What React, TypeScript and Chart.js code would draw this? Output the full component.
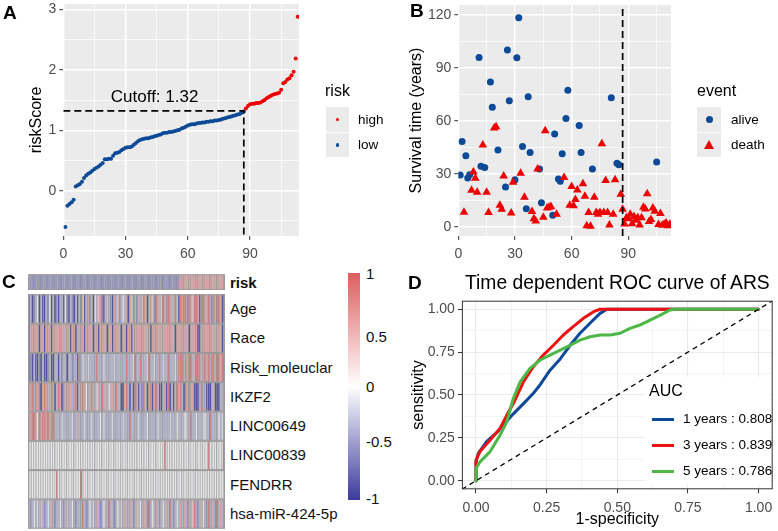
import React, { useEffect, useRef } from 'react';
import { Chart, registerables } from 'chart.js';

Chart.register(...registerables);

const FONT = "'Liberation Sans', Arial, Helvetica, sans-serif";

// ---------------- Panel A: sorted risk scores ----------------
const riskScore = [
  -0.60, -0.25, -0.22, -0.19, -0.15, 0.07, 0.09, 0.11, 0.15, 0.21,
  0.25, 0.28, 0.30, 0.33, 0.36, 0.38, 0.40, 0.43, 0.46, 0.52,
  0.52, 0.53, 0.53, 0.58, 0.62, 0.63, 0.64, 0.67, 0.69, 0.71,
  0.72, 0.72, 0.73, 0.76, 0.79, 0.82, 0.84, 0.85, 0.86, 0.87,
  0.87, 0.88, 0.89, 0.90, 0.91, 0.92, 0.93, 0.95, 0.96, 0.96,
  0.97, 0.97, 0.98, 0.99, 1.00, 1.01, 1.03, 1.04, 1.06, 1.08,
  1.09, 1.10, 1.10, 1.11, 1.12, 1.12, 1.13, 1.13, 1.14, 1.14,
  1.15, 1.15, 1.16, 1.16, 1.17, 1.18, 1.19, 1.20, 1.21, 1.22,
  1.23, 1.24, 1.25, 1.26, 1.27, 1.29, 1.31,
  1.36, 1.40, 1.43, 1.44, 1.44, 1.45, 1.45, 1.46, 1.48, 1.50,
  1.53, 1.55, 1.57, 1.59, 1.60, 1.61, 1.62, 1.67, 1.78, 1.80,
  1.84, 1.86, 1.91, 1.97, 2.19, 2.88,
];
const cutoff = 1.32;
const cutoffRank = 87;
const cutoffLabelX = 44;
const cutoffLabelY = 1.55;
const aXMajor = [0, 30, 60, 90];
const aXMinor = [15, 45, 75, 105];
const aYMajor = [0, 1, 2, 3];
const aYMinor = [-0.5, 0.5, 1.5, 2.5];

// ---------------- Panel B: survival ----------------
const aliveRank = [1, 2, 4, 5, 6, 11, 12, 14, 17, 18, 21, 25, 26, 27, 30, 31, 32, 34, 36, 37, 38, 43, 44, 50, 51, 53, 54, 55, 57, 58, 64, 65, 71, 81, 84, 85, 105];
const aliveTime = [29.3, 48.3, 40.2, 27.7, 29.5, 95.8, 34.3, 33.6, 81.9, 67.7, 43.5, 22.5, 100, 71.4, 26.6, 95.6, 118.3, 45.4, 10.3, 73.6, 42.1, 32.7, 13.7, 6.6, 52.6, 27.1, 25.8, 41.3, 61.3, 77.3, 57.4, 42.1, 32.7, 73.1, 36, 35.2, 36.7];
const deathRank = [3, 7, 8, 9, 10, 13, 15, 16, 19, 20, 22, 23, 24, 28, 29, 33, 35, 39, 40, 41, 42, 45, 46, 47, 48, 49, 52, 56, 59, 60, 61, 62, 63, 66, 67, 68, 69, 70, 72, 73, 74, 75, 76, 77, 78, 79, 80, 82, 83, 86, 87, 88, 89, 90, 91, 92, 93, 94, 95, 96, 97, 98, 99, 100, 101, 102, 103, 104, 106, 107, 108, 109, 110, 111, 112];
const deathTime = [8.3, 20.7, 31, 27.5, 19.6, 46.3, 19.6, 8.1, 55.9, 56.6, 12.2, 10, 28.8, 7.9, 25.3, 30.4, 16.8, 8.7, 4.6, 3.3, 32.8, 5.5, 54.4, 10.7, 11.1, 11.6, 7.2, 27.9, 12.2, 22.9, 12, 15.5, 20.8, 24.4, 17.3, 0.7, 8.1, 0.4, 16.8, 8.1, 7.2, 8.1, 47, 8.1, 26.2, 8.1, 1.1, 7.2, 26.6, 18.5, 10, 1.7, 5.2, 4.6, 7.2, 1.8, 5.9, 3.7, 5.2, 1.1, 5.2, 11.1, 10.1, 18.8, 3, 4.2, 10.7, 8.9, 1.3, 7.6, 0.9, 1.5, 2.2, 0.7, 1.5];
const bXMajor = [0, 30, 60, 90];
const bXMinor = [15, 45, 75, 105];
const bYMajor = [0, 30, 60, 90, 120];
const bYMinor = [15, 45, 75, 105];

// ---------------- Panel C: heatmap ----------------
const heatRowNames = ['Age', 'Race', 'Risk_moleuclar', 'IKZF2', 'LINC00649', 'LINC00839', 'FENDRR', 'hsa-miR-424-5p'];
// a=-1 b=-0.6 c=-0.35 d=-0.12 e=0 f=0.3 g=0.55 h=0.85 i=1
const hmAge = 'acabceacaacbeacabaccaebacbaca' + 'cbfacgbcaecfgbacfcbagcfbcecga' + 'gfhcbgcfhgacgfbhgcfhgbhgcghfa' + 'hghhbhgfhhgahhgghcbhghhgah';
const hmRace = 'agggggaggagggaggggggggggaggag' + 'gggaggggaggaggggaggaggggaggag' + 'gaggggggggggagggggggggggggagg' + 'gggggaggggaaggggggggggggag';
const hmRiskMol = 'abacaabacaabcaaccacbccaccbcca' + 'hcdccdcccchcccdcccccdcccccchc' + 'ccdhcchcccdhccdcchcdcchcccdch' + 'hhchghhcghhhcghghchhghhghh';
const hmIKZF2 = 'hghchghaghgcghgachgahcgggcgha' + 'cghgecghgcdgchgcgecgchgcaaghc' + 'acahgacbhcaghaghcaacgahacaghg' + 'hcahghcgaaaghgcaaacgaaaccg';
const hmL649 = 'hghhgehghhghghhgcccdcccccdccc' + 'gccdcccdccccecdccccdcccccdccc' + 'hccccdccccecccccdccccccdcccec' + 'ccdecchccecccdecchccccecdc';
const hmL839 = 'edeedeeedeeedeedeeedeedeeedee' + 'eedeeedeedeeedeeedeedeeedeede' + 'edeedeeedeedeeedeeeehdeedeeed' + 'eedeedeeedeedeeehedeedeedh';
const hmFENDRR = 'edeedeeedeeedeeehedeedeeedeee' + 'ehdeedeeedeedeeedeeedeedeeede' + 'eedeeedeedeeedeeedeedeeedeede' + 'edeedeeedeedeeedeeedeedeee';
const hmMiR = 'cbcecdcfcbcecgcbccecbcfccecbc' + 'cchcbcecdcgcbcecchccbcecdcgcc' + 'gcbcfcecgcbhcecgcbcecgchcbcec' + 'gcgcbgcfhcbcgecbhcgcbhcgcg';
const heatRows = [hmAge, hmRace, hmRiskMol, hmIKZF2, hmL649, hmL839, hmFENDRR, hmMiR];
const codeValue: Record<string, number> = { a: -1, b: -0.6, c: -0.35, d: -0.12, e: 0, f: 0.3, g: 0.55, h: 0.85, i: 1 };
const riskRowLow = -0.55;
const riskRowHigh = 0.55;
const colorbarLabels = ['1', '0.5', '0', '-0.5', '-1'];

// ---------------- Panel D: ROC ----------------
const fpr1 = [0, 0, 0.008, 0.038, 0.073, 0.097, 0.132, 0.168, 0.203, 0.227, 0.262, 0.298, 0.333, 0.368, 0.404, 0.439, 0.463, 1.0];
const tpr1 = [0, 0.11, 0.16, 0.23, 0.28, 0.325, 0.39, 0.45, 0.51, 0.56, 0.645, 0.71, 0.79, 0.86, 0.92, 0.976, 1.0, 1.0];
const fpr3 = [0, 0, 0.014, 0.05, 0.085, 0.109, 0.132, 0.168, 0.203, 0.238, 0.274, 0.309, 0.345, 0.38, 0.416, 0.439, 1.0];
const tpr3 = [0, 0.12, 0.17, 0.237, 0.305, 0.383, 0.45, 0.577, 0.665, 0.733, 0.79, 0.85, 0.9, 0.947, 0.986, 1.0, 1.0];
const fpr5 = [0, 0, 0.014, 0.05, 0.085, 0.109, 0.132, 0.156, 0.191, 0.227, 0.262, 0.298, 0.333, 0.368, 0.404, 0.439, 0.475, 0.51, 0.545, 0.58, 0.616, 0.652, 0.687, 0.705, 1.0];
const tpr5 = [0, 0.07, 0.11, 0.17, 0.266, 0.344, 0.48, 0.577, 0.655, 0.704, 0.733, 0.762, 0.79, 0.82, 0.84, 0.85, 0.85, 0.86, 0.889, 0.908, 0.937, 0.966, 0.996, 1.0, 1.0];
const rocLabels = ['1 years : 0.808', '3 years : 0.839', '5 years : 0.786'];
const dMajor = [0, 0.25, 0.5, 0.75, 1];
const dMinor = [0.125, 0.375, 0.625, 0.875];

// ---------------- colours ----------------
const BLUE = '#0c4a97';
const RED = '#ee0000';
const ROC_COLORS = ['#0c4a97', '#ee1111', '#4cb848'];

const zip = (xs: number[], ys: number[]) => xs.map((x, i) => ({ x, y: ys[i] }));

function ggAxis(o: any) {
  const all = [...o.majors, ...o.minors].sort((a: number, b: number) => a - b);
  const isMajor = (v: any) => o.majors.some((m: number) => Math.abs(m - v) < 1e-9);
  return {
    type: 'linear',
    min: o.min,
    max: o.max,
    afterBuildTicks: (s: any) => { s.ticks = all.map((v: number) => ({ value: v })); },
    afterFit: (s: any) => {
      if (o.axis === 'x') s.height = o.size; else s.width = o.size;
      s.paddingTop = 0; s.paddingBottom = 0; s.paddingLeft = 0; s.paddingRight = 0;
    },
    ticks: {
      autoSkip: false, maxRotation: 0, minRotation: 0, padding: o.axis === 'x' ? 6 : 3,
      color: '#4d4d4d', font: { family: FONT, size: 14 },
      callback: (v: any) => (isMajor(v) ? o.fmt(v) : ''),
    },
    grid: {
      color: o.gridColor,
      lineWidth: (c: any) => (isMajor(c.tick && c.tick.value) ? o.majorW : o.minorW),
      tickLength: 4,
      tickWidth: 1,
      tickColor: (c: any) => (isMajor(c.tick && c.tick.value) ? '#333333' : 'rgba(0,0,0,0)'),
    },
    border: { display: false },
    title: o.title
      ? { display: true, text: o.title, color: '#000', font: { family: FONT, size: 16, lineHeight: 1.2 }, padding: 0 }
      : { display: false },
  };
}

const bgPlugin = (color: string) => ({
  id: 'panelBg',
  beforeDraw(chart: any) {
    const { ctx, chartArea: a } = chart;
    ctx.save();
    ctx.fillStyle = color;
    ctx.fillRect(a.left, a.top, a.right - a.left, a.bottom - a.top);
    ctx.restore();
  },
});

const borderPlugin = {
  id: 'panelBorder',
  afterDraw(chart: any) {
    const { ctx, chartArea: a } = chart;
    ctx.save();
    ctx.strokeStyle = '#333333';
    ctx.lineWidth = 1;
    ctx.strokeRect(a.left + 0.5, a.top + 0.5, a.right - a.left - 1, a.bottom - a.top - 1);
    ctx.restore();
  },
};

const basePlugins = { legend: { display: false }, tooltip: { enabled: false }, title: { display: false } };

function configA() {
  const pts = riskScore.map((y, i) => ({ x: i + 1, y }));
  const yMin = -0.75;
  return {
    type: 'scatter',
    data: {
      datasets: [
        {
          type: 'line',
          data: [{ x: 0, y: cutoff }, { x: cutoffRank, y: cutoff }, { x: cutoffRank, y: yMin }],
          borderColor: '#000', borderWidth: 1.7, borderDash: [7, 4], pointRadius: 0, fill: false, tension: 0,
        },
        { data: pts.filter((p) => p.y > cutoff), backgroundColor: RED, borderColor: RED, pointRadius: 2, borderWidth: 0 },
        { data: pts.filter((p) => p.y <= cutoff), backgroundColor: BLUE, borderColor: BLUE, pointRadius: 2, borderWidth: 0 },
      ],
    },
    options: {
      responsive: false, animation: false, events: [],
      layout: { padding: { left: 27.1, right: 91, top: 0, bottom: 0 } },
      plugins: basePlugins,
      scales: {
        x: ggAxis({ axis: 'x', min: 0, max: 113.6, majors: aXMajor, minors: aXMinor, fmt: (v: number) => String(v), size: 29, gridColor: '#ffffff', majorW: 1.4, minorW: 0.7 }),
        y: ggAxis({ axis: 'y', min: yMin, max: 3.09, majors: aYMajor, minors: aYMinor, fmt: (v: number) => String(v), size: 36.2, gridColor: '#ffffff', majorW: 1.4, minorW: 0.7, title: 'riskScore' }),
      },
    },
    plugins: [
      bgPlugin('#EBEBEB'),
      {
        id: 'cutoffLabel',
        afterDatasetsDraw(chart: any) {
          const { ctx, scales } = chart;
          ctx.save();
          ctx.font = `17px ${FONT}`;
          ctx.fillStyle = '#000';
          ctx.textAlign = 'center';
          ctx.textBaseline = 'middle';
          ctx.fillText(`Cutoff: ${cutoff}`, scales.x.getPixelForValue(cutoffLabelX), scales.y.getPixelForValue(cutoffLabelY));
          ctx.restore();
        },
      },
    ],
  };
}

function configB() {
  const yMin = -5.15;
  const yMax = 125.5;
  return {
    type: 'scatter',
    data: {
      datasets: [
        {
          type: 'line',
          data: [{ x: cutoffRank, y: yMin }, { x: cutoffRank, y: yMax }],
          borderColor: '#000', borderWidth: 1.7, borderDash: [7, 4], pointRadius: 0, fill: false, tension: 0,
        },
        { data: zip(deathRank, deathTime), pointStyle: 'triangle', backgroundColor: RED, borderColor: RED, pointRadius: 5, borderWidth: 0 },
        { data: zip(aliveRank, aliveTime), pointStyle: 'circle', backgroundColor: BLUE, borderColor: BLUE, pointRadius: 3.5, borderWidth: 0 },
      ],
    },
    options: {
      responsive: false, animation: false, events: [],
      layout: { padding: { left: 17.1, right: 107, top: 0, bottom: 0 } },
      plugins: basePlugins,
      scales: {
        x: ggAxis({ axis: 'x', min: 0, max: 112.6, majors: bXMajor, minors: bXMinor, fmt: (v: number) => String(v), size: 29, gridColor: '#ffffff', majorW: 1.4, minorW: 0.7 }),
        y: ggAxis({ axis: 'y', min: yMin, max: yMax, majors: bYMajor, minors: bYMinor, fmt: (v: number) => String(v), size: 51.2, gridColor: '#ffffff', majorW: 1.4, minorW: 0.7, title: 'Survival time (years)' }),
      },
    },
    plugins: [bgPlugin('#EBEBEB')],
  };
}

function configD() {
  const lineDs = (xs: number[], ys: number[], color: string) => ({
    type: 'line', data: zip(xs, ys), borderColor: color, borderWidth: 3, pointRadius: 0, fill: false, tension: 0,
    borderCapStyle: 'round', borderJoinStyle: 'round',
  });
  return {
    type: 'scatter',
    data: {
      datasets: [
        { type: 'line', data: [{ x: -0.05, y: -0.05 }, { x: 1.05, y: 1.05 }], borderColor: '#000', borderWidth: 1.3, borderDash: [5, 4], pointRadius: 0, fill: false },
        lineDs(fpr5, tpr5, ROC_COLORS[2]),
        lineDs(fpr3, tpr3, ROC_COLORS[1]),
        lineDs(fpr1, tpr1, ROC_COLORS[0]),
      ],
    },
    options: {
      responsive: false, animation: false, events: [],
      layout: { padding: { left: 18.7, right: 5.3, top: 35.7, bottom: 1.4 } },
      plugins: basePlugins,
      scales: {
        x: ggAxis({ axis: 'x', min: -0.05, max: 1.05, majors: dMajor, minors: dMinor, fmt: (v: number) => v.toFixed(2), size: 40.3, gridColor: '#EBEBEB', majorW: 1.1, minorW: 0.55, title: '1-specificity' }),
        y: ggAxis({ axis: 'y', min: -0.05, max: 1.05, majors: dMajor, minors: dMinor, fmt: (v: number) => v.toFixed(2), size: 53.2, gridColor: '#EBEBEB', majorW: 1.1, minorW: 0.55, title: 'sensitivity' }),
      },
    },
    plugins: [borderPlugin],
  };
}

// heatmap colour scale
const C_LO = [59, 59, 157];
const C_MID = [255, 255, 255];
const C_HI = [221, 94, 94];
function cmap(v: number) {
  const t = Math.max(-1, Math.min(1, v));
  const end = t < 0 ? C_LO : C_HI;
  const k = Math.abs(t);
  return C_MID.map((m, i) => m + (end[i] - m) * k);
}
function cellColor(v: number) {
  const c = cmap(v);
  const g = 160;
  const k = 0.25;
  return `rgb(${c.map((x) => Math.round(x * (1 - k) + g * k)).join(',')})`;
}
const RISK_BAND = [0, 15.7];
const ROW_START = 20;
const ROW_H = 29.3;

function configC() {
  const n = riskScore.length;
  const labels = riskScore.map((_, i) => String(i + 1));
  const riskVals = riskScore.map((v) => (v > cutoff ? riskRowHigh : riskRowLow));
  const bands = [RISK_BAND, ...heatRows.map((_, r) => [ROW_START + r * ROW_H, ROW_START + (r + 1) * ROW_H])];
  const rowVals = [riskVals, ...heatRows.map((s) => s.split('').slice(0, n).map((ch) => codeValue[ch] ?? 0))];
  return {
    type: 'bar',
    data: {
      labels,
      datasets: rowVals.map((vals, r) => ({
        data: vals.map(() => [bands[r][0], bands[r][1]]),
        backgroundColor: vals.map(cellColor),
        borderColor: '#8e8e8e',
        borderWidth: { left: 0.6, right: 0, top: 0, bottom: 0 },
        borderSkipped: false,
        inflateAmount: 0.3,
        grouped: false,
        categoryPercentage: 1,
        barPercentage: 1,
      })),
    },
    options: {
      responsive: false, animation: false, events: [],
      layout: { padding: { left: 28, right: 5, top: 9.3, bottom: 2.3 } },
      plugins: basePlugins,
      scales: {
        x: { display: false, offset: true },
        y: { display: false, min: 0, max: ROW_START + heatRows.length * ROW_H, reverse: true },
      },
    },
    plugins: [
      {
        id: 'rowFrames',
        afterDatasetsDraw(chart: any) {
          const { ctx, chartArea: a, scales } = chart;
          ctx.save();
          ctx.strokeStyle = '#9a9a9a';
          ctx.lineWidth = 1;
          bands.forEach((b) => {
            const y0 = scales.y.getPixelForValue(b[0]);
            const y1 = scales.y.getPixelForValue(b[1]);
            ctx.strokeRect(a.left + 0.5, y0 + 0.5, a.right - a.left - 1, y1 - y0 - 1);
          });
          ctx.restore();
        },
      },
    ],
  };
}

function ChartBox({ left, top, width, height, config }: any) {
  const ref = useRef<HTMLCanvasElement>(null);
  useEffect(() => {
    const chart = new Chart(ref.current as HTMLCanvasElement, config() as any);
    return () => chart.destroy();
  }, []);
  return (
    <div style={{ position: 'absolute', left, top, width, height }}>
      <canvas ref={ref} width={width} height={height} style={{ width, height, display: 'block' }} />
    </div>
  );
}

function Txt({ x, y, size = 14, bold = false, color = '#000', align = 'left', children }: any) {
  const lh = size * 1.2;
  const style: React.CSSProperties = {
    position: 'absolute', left: x, top: y - lh / 2, fontSize: size, lineHeight: `${lh}px`,
    fontFamily: FONT, fontWeight: bold ? 700 : 400, color, whiteSpace: 'nowrap',
  };
  if (align === 'right') style.transform = 'translateX(-100%)';
  if (align === 'center') style.transform = 'translateX(-50%)';
  return <div style={style}>{children}</div>;
}

function Box({ x, y, w, h, bg, radius = 0 }: any) {
  return <div style={{ position: 'absolute', left: x, top: y, width: w, height: h, background: bg, borderRadius: radius }} />;
}

export default function App() {
  const cbTop = 273;
  const cbH = 227;
  const cbLabelY = [274, 337, 387, 442, 499];
  return (
    <div style={{ position: 'fixed', left: 0, top: 0, width: 778, height: 531, background: '#fff', overflow: 'hidden' }}>
      {/* Panel A */}
      <ChartBox left={0} top={0} width={390} height={265} config={configA} />
      <Txt x={3} y={13} size={19} bold>A</Txt>
      <Txt x={325} y={91} size={16}>risk</Txt>
      <Box x={326} y={107} w={23} h={24.5} bg="#EBEBEB" />
      <Box x={326} y={132.5} w={23} h={24.5} bg="#EBEBEB" />
      <Box x={335.6} y={117.6} w={3.8} h={3.8} bg={RED} radius={2} />
      <Box x={335.6} y={143} w={3.8} h={3.8} bg={BLUE} radius={2} />
      <Txt x={358} y={120} size={13.5}>high</Txt>
      <Txt x={358} y={145} size={13.5}>low</Txt>

      {/* Panel B */}
      <ChartBox left={390} top={0} width={388} height={265} config={configB} />
      <Txt x={410} y={11} size={19} bold>B</Txt>
      <Txt x={697} y={91} size={16}>event</Txt>
      <Box x={697} y={107} w={24} h={24.5} bg="#EBEBEB" />
      <Box x={697} y={132.5} w={24} h={24.5} bg="#EBEBEB" />
      <Box x={705.5} y={116} w={7} h={7} bg={BLUE} radius={4} />
      <svg style={{ position: 'absolute', left: 703, top: 139 }} width={12} height={11}>
        <polygon points="6,1 11,10 1,10" fill={RED} />
      </svg>
      <Txt x={731} y={120} size={13.5}>alive</Txt>
      <Txt x={731} y={145} size={13.5}>death</Txt>

      {/* Panel C */}
      <ChartBox left={0} top={265} width={230} height={266} config={configC} />
      <Txt x={2} y={282} size={19} bold>C</Txt>
      <Txt x={230} y={283} size={15} bold color="#111">risk</Txt>
      {heatRowNames.map((name, i) => (
        <Txt key={name} x={230} y={265 + 9.3 + ROW_START + (i + 0.5) * ROW_H} size={15} color="#111">{name}</Txt>
      ))}
      <div style={{ position: 'absolute', left: 348, top: cbTop, width: 12, height: cbH, background: 'linear-gradient(to bottom, rgb(221,94,94) 0%, #ffffff 50%, rgb(59,59,157) 100%)' }} />
      {colorbarLabels.map((t, i) => (
        <Txt key={t} x={366} y={cbLabelY[i]} size={15} color="#111">{t}</Txt>
      ))}

      {/* Panel D */}
      <ChartBox left={390} top={265} width={388} height={266} config={configD} />
      <Txt x={408} y={283} size={19} bold>D</Txt>
      <Txt x={465} y={283} size={19.3}>Time dependent ROC curve of ARS</Txt>
      <div style={{ position: 'absolute', left: 645, top: 377, width: 125, height: 108, background: '#fff' }} />
      <Txt x={649} y={391} size={16}>AUC</Txt>
      {rocLabels.map((t, i) => (
        <React.Fragment key={t}>
          <Box x={652} y={417.5 + i * 26} w={22} h={3} bg={ROC_COLORS[i]} />
          <Txt x={683} y={419 + i * 26} size={13.5}>{t}</Txt>
        </React.Fragment>
      ))}
    </div>
  );
}
